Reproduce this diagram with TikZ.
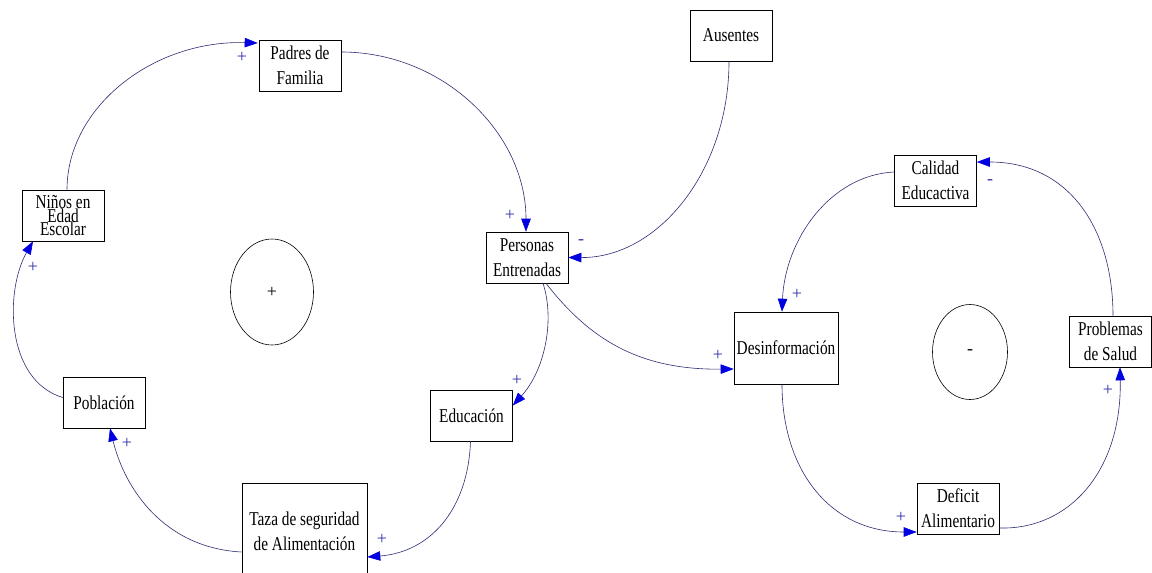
\documentclass[tikz,border=0pt]{standalone}
\usepackage{fontspec}
\usepackage{graphicx}
\setmainfont{Liberation Serif}
\usetikzlibrary{arrows.meta,calc,shapes.geometric}
\definecolor{lnc}{RGB}{45,45,115}
\definecolor{arc}{RGB}{0,0,225}
\definecolor{sgc}{RGB}{50,50,170}
\newcommand\vtxt[2][19.5pt]{\scalebox{1}[1.28]{\vbox{\fontsize{15.3}{#1}\selectfont\lineskiplimit=-50pt\lineskip=0pt\halign{\hfil##\hfil\cr #2\crcr}}}}
\tikzset{
  var/.style={draw=black, line width=0.6pt, fill=white, inner sep=0pt, minimum width=82pt, minimum height=51pt},
  lnk/.style={draw=lnc, line width=0.6pt, -{Triangle[length=13pt,width=9.5pt,color=arc,fill=arc]}},
  sgn/.style={text=sgc, font=\fontsize{18}{18}\selectfont, inner sep=0pt},
  loopmark/.style={draw=black, line width=0.6pt, ellipse, inner sep=0pt, font=\fontsize{18}{18}\selectfont}
}
\begin{document}
\begin{tikzpicture}[x=1pt,y=-1pt]
\fill[white] (0,0) rectangle (1152,573);
\useasboundingbox (0,0) rectangle (1152,573);
% loop markers
\node[loopmark, minimum width=83pt, minimum height=106pt] (loopA) at (272,292) {+};
\node[loopmark, minimum width=75pt, minimum height=95pt] (loopB) at (970,352) {-};
% variables
\node[var] (pad) at (300,65.5) {\vtxt{Padres de\cr Familia}};
\node[var] (nin) at (63,215.5) {\vtxt[10.2pt]{Niños en\cr Edad\cr Escolar}};
\node[var] (aus) at (731,35.5) {\vtxt{Ausentes}};
\node[var] (per) at (527,257.5) {\vtxt{Personas\cr Entrenadas}};
\node[var] (cal) at (935.5,180.5) {\vtxt{Calidad\cr Educactiva}};
\node[var, minimum width=104pt, minimum height=72pt] (des) at (786,348) {\vtxt{Desinformación}};
\node[var] (pro) at (1110.5,341.5) {\vtxt{Problemas\cr de Salud}};
\node[var] (def) at (958,508.5) {\vtxt{Deficit\cr Alimentario}};
\node[var] (pob) at (104,402.5) {\vtxt{Población}};
\node[var, minimum width=125pt, minimum height=96pt] (taz) at (304.5,531) {\vtxt{Taza de seguridad\cr de Alimentación}};
\node[var] (edu) at (471.5,415.5) {\vtxt{Educación}};
% links
\draw[lnk] ($(nin.north)+(4,0)$) .. controls (67,107) and (153,40) .. ($(pad.west)+(-1,-22.5)$);
\draw[lnk] ($(pad.east)+(0,-13.5)$) .. controls (443,52) and (526,133) .. ($(per.north)+(-1,0)$);
\draw[lnk] ($(aus.south)+(-2,0)$) .. controls (729,171) and (658,258) .. (per.east);
\draw[lnk] ($(per.south)+(16,0)$) .. controls (555,320) and (545,370) .. ($(edu.east)+(0,-10)$);
\draw[lnk] ($(per.south)+(19,0)$) .. controls (590,340) and (640,370) .. ($(des.west)+(0,21)$);
\draw[lnk] ($(edu.south)+(-1,0)$) .. controls (468,510) and (430,552) .. ($(taz.east)+(0,26)$);
\draw[lnk] ($(taz.west)+(0,21)$) .. controls (165,548) and (125,490) .. ($(pob.south)+(6,0)$);
\draw[lnk] ($(pob.west)+(0,-5)$) .. controls (5,380) and (5,290) .. ($(nin.south)+(-30,0)$);
\draw[lnk] ($(cal.west)+(0,-8.5)$) .. controls (830,175) and (785,240) .. ($(des.north)+(-4,0)$);
\draw[lnk] ($(des.south)+(-4,0)$) .. controls (782,470) and (830,532) .. ($(def.west)+(0,23.5)$);
\draw[lnk] ($(def.east)+(0,19.5)$) .. controls (1070,530) and (1122,470) .. ($(pro.south)+(9.5,0)$);
\draw[lnk] ($(pro.north)+(2.5,0)$) .. controls (1113,230) and (1070,162) .. ($(cal.east)+(0,-18.5)$);
% polarity signs
\node[sgn] (s1) at (242,57) {+};
\node[sgn] (s2) at (510,215) {+};
\node[sgn] (s3) at (581,242) {-};
\node[sgn] (s4) at (517,380) {+};
\node[sgn] (s5) at (718,355) {+};
\node[sgn] (s6) at (382,539) {+};
\node[sgn] (s7) at (127,443) {+};
\node[sgn] (s8) at (33,267) {+};
\node[sgn] (s9) at (797,294) {+};
\node[sgn] (s10) at (901,517) {+};
\node[sgn] (s11) at (1108,390) {+};
\node[sgn] (s12) at (990,182) {-};
\end{tikzpicture}
\end{document}
